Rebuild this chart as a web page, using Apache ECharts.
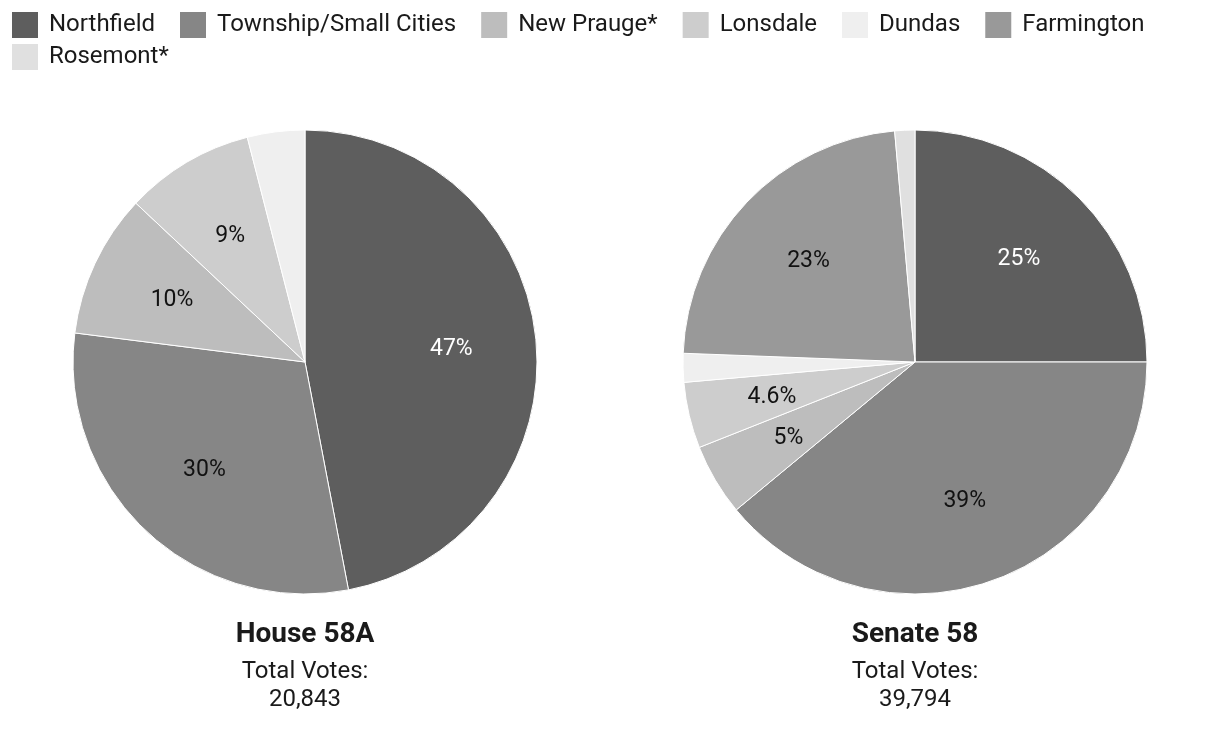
<!DOCTYPE html>
<html><head><meta charset="utf-8">
<script src="https://cdn.jsdelivr.net/npm/echarts@6/dist/echarts.min.js"></script>
<style>html,body{margin:0;padding:0;background:#fff}#c{width:1220px;height:742px}</style>
</head><body><div id="c"></div>
<script>
const categories = ['Northfield','Township/Small Cities','New Prauge*','Lonsdale','Dundas','Farmington','Rosemont*'];
const colors = ['#5e5e5e','#868686','#bdbdbd','#cdcdcd','#efefef','#999999','#e0e0e0'];
const houseNames = ['Northfield','Township/Small Cities','New Prauge*','Lonsdale','Dundas'];
const houseValues = [47, 30, 10, 9, 4];
const senateNames = ['Northfield','Township/Small Cities','New Prauge*','Lonsdale','Dundas','Farmington','Rosemont*'];
const senateValues = [25, 39, 5, 4.6, 2, 23, 1.4];
const chartTitles = ['House 58A','Senate 58'];
const totalVotes = ['20,843','39,794'];

const colorOf = n => colors[categories.indexOf(n)];
const FONT = 'Roboto';
const TXT = '#1a1a1a';
const R = 232;
function mk(names, vals){ return names.map((n,i)=>({name:n, value:vals[i], itemStyle:{color:colorOf(n)}})); }
function pieSeries(names, vals, cx){
  return [{
    type:'pie', center:[cx,362], radius:R, startAngle:90, clockwise:true,
    data: mk(names, vals), label:{show:false}, labelLine:{show:false},
    itemStyle:{borderColor:'#fff', borderWidth:1}, emphasis:{disabled:true}, silent:true, animation:false
  },{
    type:'pie', center:[cx,363], radius:288, startAngle:90, clockwise:true,
    data: names.map((n,i)=>({name:n, value:vals[i], itemStyle:{color:'rgba(0,0,0,0)'},
      label:{color: n==='Northfield' ? '#ffffff' : '#111111'}})),
    label:{show:true, position:'inside', fontFamily:FONT, fontSize:23,
      formatter: p => p.value >= 4.5 ? p.value + '%' : ''},
    labelLine:{show:false}, emphasis:{disabled:true}, silent:true, animation:false, legendHoverLink:false
  }];
}
const legendCommon = {
  icon:'rect', itemWidth:28, itemHeight:28, itemGap:23, orient:'horizontal',
  textStyle:{fontFamily:FONT, fontSize:24, color:TXT, padding:[0,0,0,5]},
  selectedMode:false
};
const option = {
  animation:false,
  legend:[
    Object.assign({}, legendCommon, {left:5, top:5, data: categories.slice(0,6).map(n=>({name:n, itemStyle:{color:colorOf(n)}}))}),
    Object.assign({}, legendCommon, {left:5, top:37, data: categories.slice(6).map(n=>({name:n, itemStyle:{color:colorOf(n)}}))})
  ],
  title:[
    {text:chartTitles[0], left:300, top:616, textAlign:'center', textStyle:{fontFamily:FONT, fontSize:28, fontWeight:'bold', color:TXT}},
    {text:'Total Votes:\n'+totalVotes[0], left:300, top:653, textAlign:'center', textStyle:{fontFamily:FONT, fontSize:24, fontWeight:'normal', color:TXT, lineHeight:28}},
    {text:chartTitles[1], left:910, top:616, textAlign:'center', textStyle:{fontFamily:FONT, fontSize:28, fontWeight:'bold', color:TXT}},
    {text:'Total Votes:\n'+totalVotes[1], left:910, top:653, textAlign:'center', textStyle:{fontFamily:FONT, fontSize:24, fontWeight:'normal', color:TXT, lineHeight:28}}
  ],
  series:[...pieSeries(houseNames, houseValues, 305), ...pieSeries(senateNames, senateValues, 915)]
};
const chart = echarts.init(document.getElementById('c'), null, {renderer:'canvas'});
chart.setOption(option);
</script></body></html>
